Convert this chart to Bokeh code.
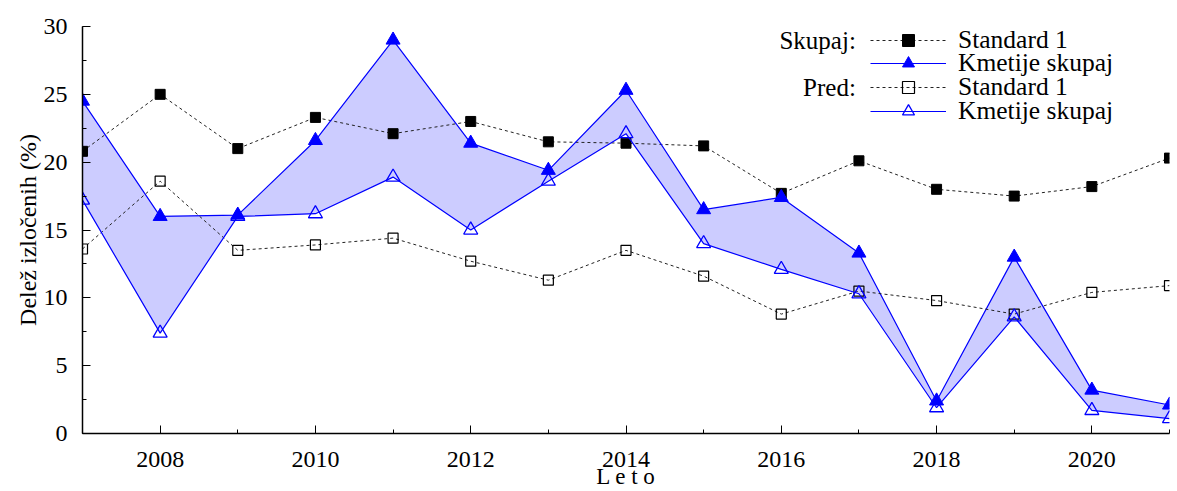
from bokeh.plotting import figure
from bokeh.models import Range1d, SingleIntervalTicker, Legend, LegendItem, Label
from bokeh.embed import file_html
from bokeh.resources import INLINE

years = list(range(2007, 2022))
std_skupaj = [20.8, 25.0, 21.0, 23.3, 22.1, 23.0, 21.5, 21.4, 21.2, 17.7, 20.1, 18.0, 17.5, 18.2, 20.3]
kmet_skupaj = [24.5, 16.0, 16.1, 21.6, 29.0, 21.4, 19.4, 25.3, 16.5, 17.4, 13.3, 2.4, 13.0, 3.2, 2.1]
std_pred = [13.6, 18.6, 13.5, 13.9, 14.4, 12.7, 11.3, 13.5, 11.6, 8.8, 10.5, 9.8, 8.8, 10.4, 10.9]
kmet_pred = [17.2, 7.4, 16.0, 16.2, 18.9, 15.0, 18.6, 22.1, 14.0, 12.1, 10.3, 1.9, 8.6, 1.7, 1.1]

group_labels = ["Skupaj:", "Pred:"]
series_labels = ["Standard 1", "Kmetije skupaj", "Standard 1", "Kmetije skupaj"]
x_title = "L e t o"
y_title = "Delež izločenih (%)"

FONT = "Liberation Serif"
BLUE = "#0000ff"

p = figure(width=1177, height=491, output_backend="svg", toolbar_location=None,
           x_range=Range1d(2007, 2021), y_range=Range1d(0, 30),
           min_border_left=82, min_border_right=8, min_border_top=26, min_border_bottom=58)
p.outline_line_color = None
p.grid.visible = False
p.background_fill_color = "white"
p.border_fill_color = "white"

p.varea(x=years, y1=kmet_pred, y2=kmet_skupaj, fill_color="#ccccff")

l1 = p.line(years, std_skupaj, line_color="#222222", line_width=1, line_dash="3 3")
m1 = p.scatter(years, std_skupaj, marker="square", size=10, fill_color="black", line_color="black")
l2 = p.line(years, kmet_skupaj, line_color=BLUE, line_width=1.2)
m2 = p.scatter(years, kmet_skupaj, marker="triangle", size=14, fill_color=BLUE, line_color=BLUE)
l3 = p.line(years, std_pred, line_color="#222222", line_width=1, line_dash="3 3")
m3 = p.scatter(years, std_pred, marker="square", size=10, fill_color=None, line_color="black", line_width=1.2)
l4 = p.line(years, kmet_pred, line_color=BLUE, line_width=1.2)
m4 = p.scatter(years, kmet_pred, marker="triangle", size=14, fill_color=None, line_color=BLUE, line_width=1.3)

pairs = [(l1, m1), (l2, m2), (l3, m3), (l4, m4)]
legend_y = [378, 355, 331, 307]
for (ln, mk), lab, ly in zip(pairs, series_labels, legend_y):
    lg = Legend(items=[LegendItem(label=lab, renderers=[ln, mk])], location=(788, ly),
                border_line_color=None, background_fill_alpha=0, padding=0, margin=0, spacing=0,
                glyph_width=76, glyph_height=30, label_height=30, label_standoff=12,
                label_text_font=FONT, label_text_font_size="25.5px", label_text_color="black")
    p.add_layout(lg)

for lbl, yv in zip(group_labels, [28.97, 25.5]):
    p.add_layout(Label(x=2016.96, y=yv, text=lbl, text_align="right", text_baseline="middle",
                       text_font=FONT, text_font_size="25px", text_font_style="normal",
                       text_color="black"))

p.xaxis.ticker = SingleIntervalTicker(interval=2, num_minor_ticks=2)
p.yaxis.ticker = SingleIntervalTicker(interval=5, num_minor_ticks=2)
for ax in [p.xaxis[0], p.yaxis[0]]:
    ax.axis_line_width = 1.5
    ax.axis_line_color = "black"
    ax.major_tick_in = 8
    ax.major_tick_out = 0
    ax.minor_tick_in = 4
    ax.minor_tick_out = 0
    ax.major_tick_line_color = "black"
    ax.minor_tick_line_color = "black"
    ax.major_label_text_font = FONT
    ax.major_label_text_font_style = "normal"
    ax.major_label_text_color = "black"
    ax.major_label_text_font_size = "24px"
    ax.axis_label_text_font = FONT
    ax.axis_label_text_font_style = "normal"
    ax.axis_label_text_color = "black"
p.xaxis.axis_label_text_font_size = "23px"
p.yaxis.axis_label_text_font_size = "24px"
p.xaxis.major_label_standoff = 18
p.yaxis.major_label_standoff = 15
p.xaxis.axis_label = x_title
p.yaxis.axis_label = y_title
p.xaxis.axis_label_standoff = -6
p.yaxis.axis_label_standoff = 0

open("out.html", "w").write(file_html(p, INLINE))
